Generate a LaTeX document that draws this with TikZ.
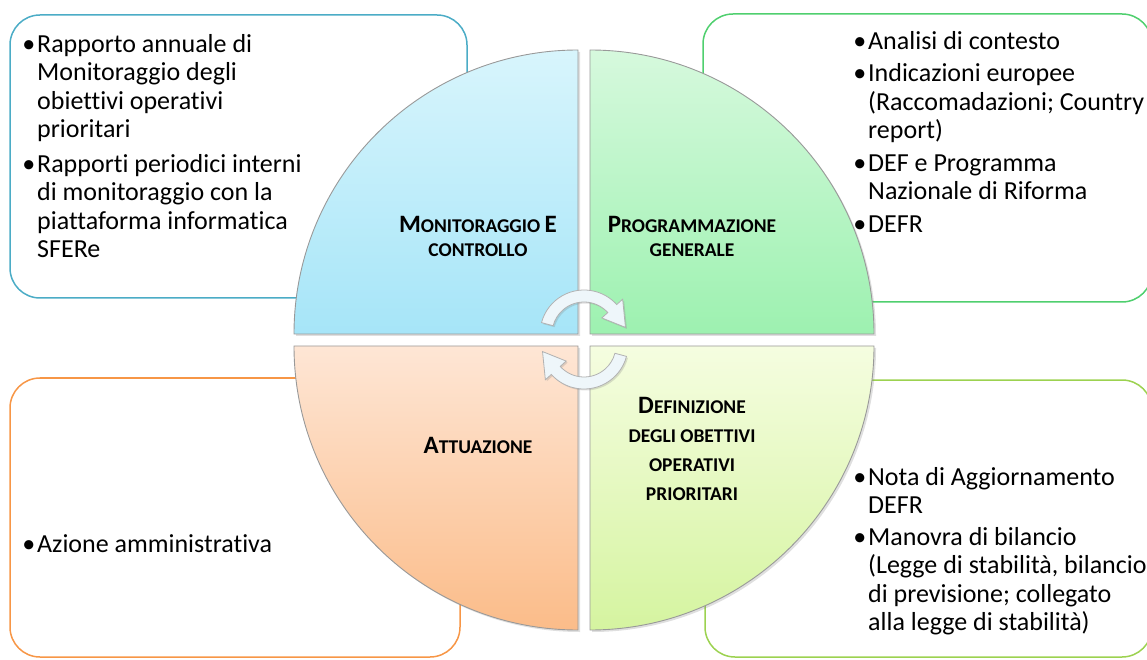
\documentclass[tikz,border=0pt]{standalone}
\usepackage{fontspec}
\setmainfont{Carlito}[Ligatures=NoCommon]
\usetikzlibrary{shadows}

\definecolor{boxblue}{HTML}{4BACC6}
\definecolor{boxgreen}{HTML}{4FCF6E}
\definecolor{boxorange}{HTML}{F79646}
\definecolor{boxlime}{HTML}{9CD250}
\definecolor{arrowwhite}{HTML}{EEF6FA}
\definecolor{bluetop}{HTML}{D8F5FC}
\definecolor{bluebot}{HTML}{A6E5F8}
\definecolor{greentop}{HTML}{D6F9DD}
\definecolor{greenbot}{HTML}{9DF1B0}
\definecolor{peachtop}{HTML}{FEE6D5}
\definecolor{peachbot}{HTML}{FBBC89}
\definecolor{limetop}{HTML}{F5FDE0}
\definecolor{limebot}{HTML}{D5F4A0}

% bullet hanging left of the text
\newcommand\bul{\llap{•\hspace{2pt}}}
% first letter of a small-caps label
\newcommand\capl[1]{{\fontsize{25}{24}\selectfont #1}}

\tikzset{
  cyclearrow/.pic={
    \filldraw[arrowfill] (165:44) arc[start angle=165, end angle=42, radius=44]
      -- (42:52) -- (9:42) -- (42:24) -- (42:32)
      arc[start angle=42, end angle=165, radius=32] -- cycle;
  }
}

\begin{document}
\begin{tikzpicture}[x=1pt, y=1pt,
  framebox/.style={line width=1.5pt, rounded corners=30pt},
  quadrant/.style={draw=gray!80, line width=0.9pt,
    drop shadow={shadow xshift=2pt, shadow yshift=-2pt, opacity=0.25}},
  listtext/.style={anchor=north west, inner sep=0pt, align=left,
    font=\fontsize{26}{28.5}\selectfont},
  quadlabel/.style={align=center, inner sep=0pt,
    font=\bfseries\fontsize{19.5}{24}\selectfont},
  arrowfill/.style={fill=arrowwhite, draw=gray!60, line width=0.8pt,
    drop shadow={shadow xshift=1.5pt, shadow yshift=-1.5pt, opacity=0.25}}]

  \useasboundingbox (0,0) rectangle (1147,659);
  \clip (0,0) rectangle (1147,659);

  % frames behind the circle
  \draw[framebox, boxblue] (10,361) rectangle (467,644);
  \draw[framebox, boxgreen] (703,357) rectangle (1152,645);
  \draw[framebox, boxorange] (10,2) rectangle (460,281);
  \draw[framebox, boxlime] (705,2) rectangle (1152,279);

  % the four quarters
  \path[quadrant, top color=bluetop, bottom color=bluebot]
    (578,325) -- (578,609) arc[start angle=90, end angle=180, radius=284] -- cycle;
  \path[quadrant, top color=greentop, bottom color=greenbot]
    (590,325) -- (874,325) arc[start angle=0, end angle=90, radius=284] -- cycle;
  \path[quadrant, top color=peachtop, bottom color=peachbot]
    (578,313) -- (294,313) arc[start angle=180, end angle=270, radius=284] -- cycle;
  \path[quadrant, top color=limetop, bottom color=limebot]
    (590,313) -- (590,29) arc[start angle=270, end angle=360, radius=284] -- cycle;

  % cycle arrows
  \pic at (584,325) {cyclearrow};
  \pic[rotate=180] at (584,314) {cyclearrow};

  % quarter labels
  \node[quadlabel] (monit) at (478,423) {\capl{M}ONITORAGGIO \capl{E}\\CONTROLLO};
  \node[quadlabel] (progr) at (692,423) {\capl{P}ROGRAMMAZIONE\\GENERALE};
  \node[quadlabel] (attua) at (478,214) {\capl{A}TTUAZIONE};
  \node[quadlabel, font=\bfseries\fontsize{19.5}{29}\selectfont] (defin) at (692,210)
    {\capl{D}EFINIZIONE\\DEGLI OBETTIVI\\OPERATIVI\\PRIORITARI};

  % lists
  \node[listtext] (monilist) at (37,627) {\strut\bul Rapporto annuale di\\
    Monitoraggio degli\\obiettivi operativi\\prioritari\\[6pt]
    \bul Rapporti periodici interni\\di monitoraggio con la\\
    piattaforma informatica\\SFERe};
  \node[listtext] (proglist) at (868,630) {\strut\bul Analisi di contesto\\[4pt]
    \bul Indicazioni europee\\(Raccomadazioni; Country\\report)\\[4pt]
    \bul DEF e Programma\\Nazionale di Riforma\\[4pt]
    \bul DEFR};
  \node[listtext] (attulist) at (37,127) {\strut\bul Azione amministrativa};
  \node[listtext] (defilist) at (868,194) {\strut\bul Nota di Aggiornamento\\DEFR\\[3pt]
    \bul Manovra di bilancio\\(Legge di stabilità, bilancio\\
    di previsione; collegato\\alla legge di stabilità)};
\end{tikzpicture}
\end{document}
